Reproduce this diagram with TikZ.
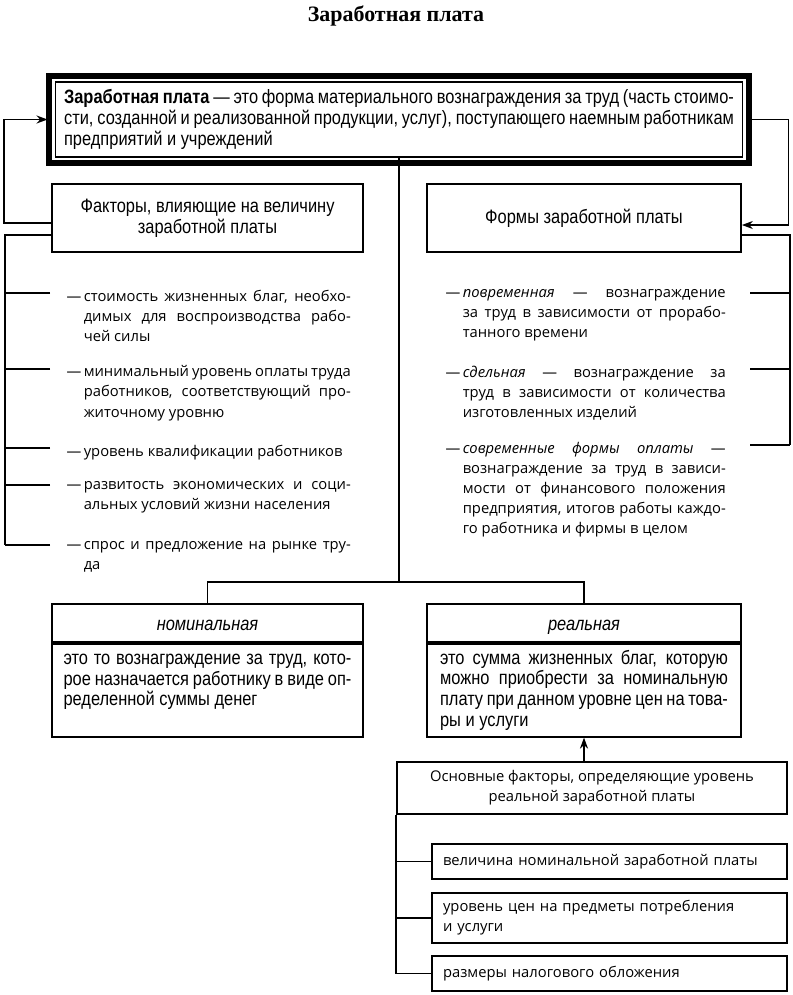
\documentclass[tikz,border=0pt]{standalone}
\usepackage{fontspec}
\usepackage{tikz}
\usetikzlibrary{arrows.meta, positioning, calc}
\newfontfamily\blokfont[FakeStretch=0.85]{Liberation Sans}
\newfontfamily\spisokfont{Open Sans}
\newfontfamily\zagfont{Liberation Serif}
\newcommand\blokf{\blokfont\fontsize{11}{11.8}\selectfont}
\newcommand\spisokf{\spisokfont\fontsize{8.4}{11.4}\selectfont}

\begin{document}
\begin{tikzpicture}[
    x=0.02cm, y=-0.02cm,
    line width=0.9pt,
    blok/.style={draw, line width=1pt, align=center, inner sep=0pt,
                 font=\blokf},
    zagl/.style={blok, minimum height=0.76cm, text height=9pt, text depth=1pt,
                 font=\blokf\itshape},
    tekst/.style={draw, line width=1pt, align=justify, inner ysep=0pt,
                  font=\blokf},
    punkt/.style={anchor=north west, inner sep=0pt, align=justify,
                  font=\spisokf},
    faktor/.style={draw, line width=1pt, align=left, inner xsep=0.22cm,
                   inner ysep=0pt, text width=6.66cm, font=\spisokf},
    strelka/.style={-{Stealth[length=2.2mm, width=1.6mm]}}
  ]
    \useasboundingbox (0,0) rectangle (793,995);
    % координаты в пикселях исходной схемы (1px = 0,02 см)
    \node[font=\zagfont\bfseries\fontsize{12.5}{14}\selectfont] (zag) at (396,16)
      {Заработная плата};
    \node[tekst, line width=0.6pt, text width=13.4cm, inner xsep=0.18cm,
          minimum height=1.5cm] (glav) at (399,119.5)
      {\textbf{Заработная плата} — это форма материального вознаграждения за труд (часть стоимо-\linebreak
       сти, созданной и реализованной продукции, услуг), поступающего наемным работникам\linebreak
       предприятий и учреждений};
    \draw[line width=3pt] ([shift={(-5.5,-5.5)}]glav.north west)
      rectangle ([shift={(5.5,5.5)}]glav.south east);
    \coordinate (glavL) at ([shift={(-7,0)}]glav.west);
    \coordinate (glavR) at ([shift={(7,0)}]glav.east);

    \node[blok, minimum width=6.22cm, minimum height=1.36cm] (faktory) at (207.5,218)
      {Факторы, влияющие на величину\\заработной платы};
    \node[blok, minimum width=6.28cm, minimum height=1.36cm] (formy) at (584,218)
      {Формы заработной платы};

    \node[punkt, text width=5.34cm] (l1) at (83,289)
      {\llap{—\,}стоимость жизненных благ, необхо-\linebreak димых для воспроизводства рабо-\linebreak чей силы};
    \node[punkt, text width=5.34cm] (l2) at (83,365)
      {\llap{—\,}минимальный уровень оплаты труда\linebreak работников, соответствующий про-\linebreak житочному уровню};
    \node[punkt, text width=5.34cm] (l3) at (83,444)
      {\llap{—\,}уровень квалификации работников};
    \node[punkt, text width=5.34cm] (l4) at (83,481)
      {\llap{—\,}развитость экономических и соци-\linebreak альных условий жизни населения};
    \node[punkt, text width=5.34cm] (l5) at (83,541)
      {\llap{—\,}спрос и предложение на рынке тру-\linebreak да};

    \node[punkt, text width=5.26cm] (r1) at (462,289)
      {\llap{—\,}\textit{повременная} — вознаграждение\linebreak за труд в зависимости от прорабо-\linebreak танного времени};
    \node[punkt, text width=5.26cm] (r2) at (462,365)
      {\llap{—\,}\textit{сдельная} — вознаграждение за\linebreak труд в зависимости от количества\linebreak изготовленных изделий};
    \node[punkt, text width=5.26cm] (r3) at (462,441)
      {\llap{—\,}\textit{современные формы оплаты} —\linebreak вознаграждение за труд в зависи-\linebreak мости от финансового положения\linebreak предприятия, итогов работы каждо-\linebreak го работника и фирмы в целом};

    \node[zagl, minimum width=6.22cm] (nomz) at (207.5,623) {номинальная};
    \node[tekst, text width=5.76cm, inner xsep=0.23cm, minimum height=1.86cm,
          below=0pt of nomz] (nomt)
      {это то вознаграждение за труд, кото-\linebreak рое назначается работнику в виде оп-\linebreak ределенной суммы денег\newline\mbox{}};
    \node[zagl, minimum width=6.28cm] (realz) at (584,623) {реальная};
    \node[tekst, text width=5.76cm, inner xsep=0.26cm, minimum height=1.86cm,
          below=0pt of realz] (realt)
      {это сумма жизненных благ, которую\linebreak можно приобрести за номинальную\linebreak плату при данном уровне цен на това-\linebreak ры и услуги};

    \node[blok, font=\spisokf, minimum width=7.8cm, minimum height=1.04cm] (osn) at (592,788)
      {Основные факторы, определяющие уровень\\реальной заработной платы};
    \node[faktor, minimum height=0.7cm] (f1) at (609.5,861.5)
      {величина номинальной заработной платы};
    \node[faktor, minimum height=1.0cm] (f2) at (609.5,918)
      {уровень цен на предметы потребления\\и услуги};
    \node[faktor, minimum height=0.7cm] (f3) at (609.5,973.5)
      {размеры налогового обложения};

    \draw[strelka] ([shift={(0,5)}]faktory.west) -- ++(-47,0) |- (glavL);
    \draw[strelka] (glavR) -- ++(38,0) |- ([shift={(0,7)}]formy.east);
    \draw ([shift={(0,17)}]faktory.west) -| ([shift={(-78,4)}]l5.north west);
    \foreach \p in {l1,l2,l3,l4,l5}
      \draw ([shift={(-33,4)}]\p.north west) -- ++(-45,0);
    \draw ([shift={(0,17)}]formy.east) -| ([shift={(328,4)}]r3.north west);
    \foreach \p in {r1,r2,r3}
      \draw ([shift={(288,4)}]\p.north west) -- ++(40,0);

    \coordinate (uzel) at (399,582);
    \draw (glav.south) -- (uzel);
    \draw (nomz.north) |- (uzel) -| (realz.north);
    \draw[strelka] (realt.south |- osn.north) -- (realt.south);
    \draw (osn.south west) -- (osn.south west |- f3.west);
    \foreach \f in {f1,f2,f3}
      \draw (osn.south west |- \f.west) -- (\f.west);
  \end{tikzpicture}
\end{document}
